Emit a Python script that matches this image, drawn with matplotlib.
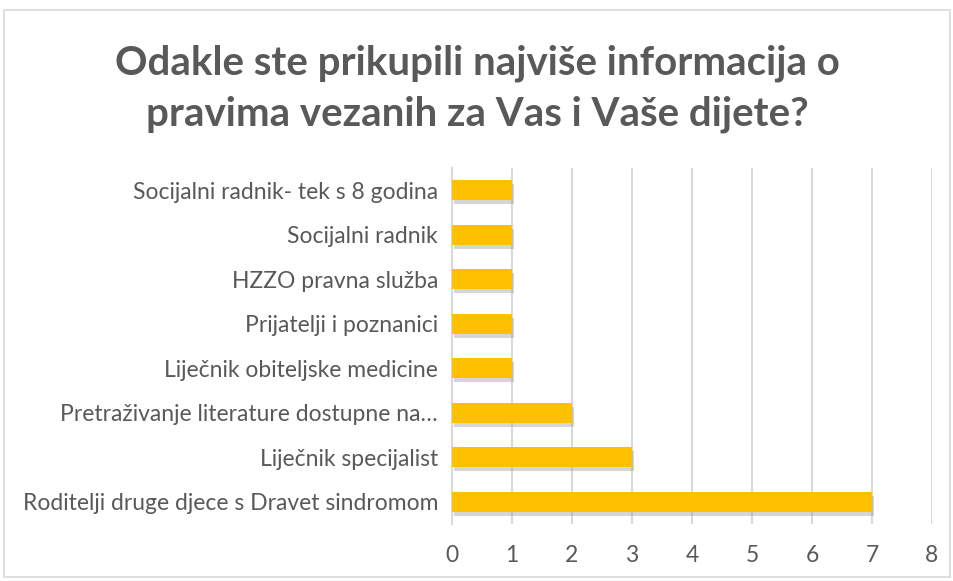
import matplotlib.pyplot as plt
import matplotlib.patheffects as pe
from matplotlib.patches import Rectangle

categories = [
    "Roditelji druge djece s Dravet sindromom",
    "Liječnik specijalist",
    "Pretraživanje literature dostupne na…",
    "Liječnik obiteljske medicine",
    "Prijatelji i poznanici",
    "HZZO pravna služba",
    "Socijalni radnik",
    "Socijalni radnik- tek s 8 godina",
]
counts = [7, 3, 2, 1, 1, 1, 1, 1]
xticks = [0, 1, 2, 3, 4, 5, 6, 7, 8]

plt.rcParams['font.family'] = ['Lato', 'DejaVu Sans']
text_col = '#595959'
grid_col = '#d9d9d9'

fig = plt.figure(figsize=(9.54, 5.81), dpi=100)
fig.patches.append(Rectangle((4 / 954, 4 / 581), 946 / 954, 567 / 581,
                             transform=fig.transFigure, fill=False,
                             edgecolor=grid_col, linewidth=1.2))

ax = fig.add_axes([452 / 954, 57 / 581, 480 / 954, 356 / 581])
bars = ax.barh(range(len(categories)), counts, height=0.45, color='#FFC000',
               zorder=3)
for b in bars:
    b.set_path_effects([pe.SimplePatchShadow(offset=(1.5, -3), shadow_rgbFace='#999999',
                                             alpha=0.4), pe.Normal()])

ax.set_xlim(0, 8)
ax.set_ylim(-0.5, len(categories) - 0.5)
ax.set_xticks(xticks)
ax.set_yticks(range(len(categories)))
ax.set_yticklabels(categories)
ax.grid(axis='x', color=grid_col, linewidth=1.5, zorder=0)
for s in ['top', 'right', 'bottom']:
    ax.spines[s].set_visible(False)
ax.spines['left'].set_color(grid_col)
ax.spines['left'].set_linewidth(1.5)
ax.tick_params(axis='both', length=0, labelsize=16.5, colors=text_col)
ax.tick_params(axis='y', pad=10)
ax.tick_params(axis='x', pad=15)

fig.text(0.5, 0.847, "Odakle ste prikupili najviše informacija o\npravima vezanih za Vas i Vaše dijete?",
         ha='center', va='center', fontsize=29, fontweight='bold', color=text_col,
         linespacing=1.45)

fig.savefig('out.png', dpi=100)
